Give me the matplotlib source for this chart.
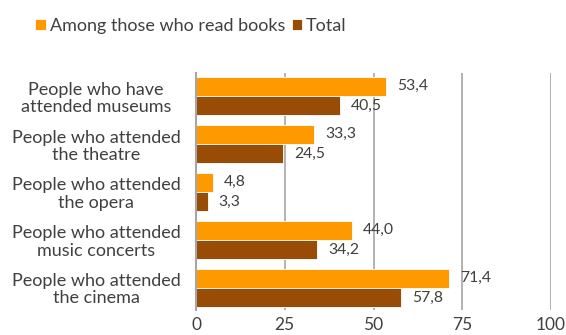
import matplotlib
matplotlib.use("Agg")
import matplotlib.pyplot as plt
import numpy as np

categories = ["People who have\nattended museums",
              "People who attended\nthe theatre",
              "People who attended\nthe opera",
              "People who attended\nmusic concerts",
              "People who attended\nthe cinema"]
readers = [53.4, 33.3, 4.8, 44.0, 71.4]
total = [40.5, 24.5, 3.3, 34.2, 57.8]
series_names = ["Among those who read books", "Total"]
xticks = [0, 25, 50, 75, 100]

plt.rcParams['font.family'] = ['Lato', 'DejaVu Sans']
text_color = "#404040"
c_orange = "#FF9900"
c_brown = "#994C06"

fig = plt.figure(figsize=(5.66, 3.35), dpi=100)
ax = fig.add_axes([0.3463, 0.0746, 0.6272, 0.7075])

y = np.arange(len(categories))
h = 0.405
b1 = ax.barh(y - h / 2, readers, height=h, color=c_orange, edgecolor="white", linewidth=0.6, label=series_names[0], zorder=3)
b2 = ax.barh(y + h / 2, total, height=h, color=c_brown, edgecolor="white", linewidth=0.6, label=series_names[1], zorder=3)

for bars, vals in ((b1, readers), (b2, total)):
    for rect, v in zip(bars, vals):
        ax.annotate(f"{v:.1f}".replace(".", ","),
                    xy=(rect.get_width(), rect.get_y() + rect.get_height() / 2),
                    xytext=(8, 0), textcoords="offset points",
                    ha="left", va="center", fontsize=11.3, color=text_color, zorder=4)

ax.set_xlim(0, 100)
ax.set_ylim(len(categories) - 1 + 0.46, -0.48)
ax.set_xticks(xticks)
ax.set_xticklabels([str(t) for t in xticks], fontsize=12.5, color=text_color)
ax.set_yticks(y)
ax.set_yticklabels(categories, fontsize=13, color=text_color, ha="center", linespacing=1.08)
ax.tick_params(axis="y", length=0, pad=72)
ax.tick_params(axis="x", length=0, pad=5)
ax.grid(axis="x", color="#A6A6A6", linewidth=1.2, zorder=0)
for s in ["top", "right", "bottom"]:
    ax.spines[s].set_visible(False)
ax.spines["left"].set_color("#A6A6A6")
ax.spines["left"].set_linewidth(1.5)
ax.spines["left"].set_zorder(5)

leg = fig.legend(handles=[b1, b2], loc="upper left", bbox_to_anchor=(0.034, 0.995),
                 ncol=2, frameon=False, fontsize=13, handlelength=0.6, handleheight=0.6,
                 handletextpad=0.2, columnspacing=0.35, labelcolor=text_color)

fig.savefig("out.png", dpi=100)
